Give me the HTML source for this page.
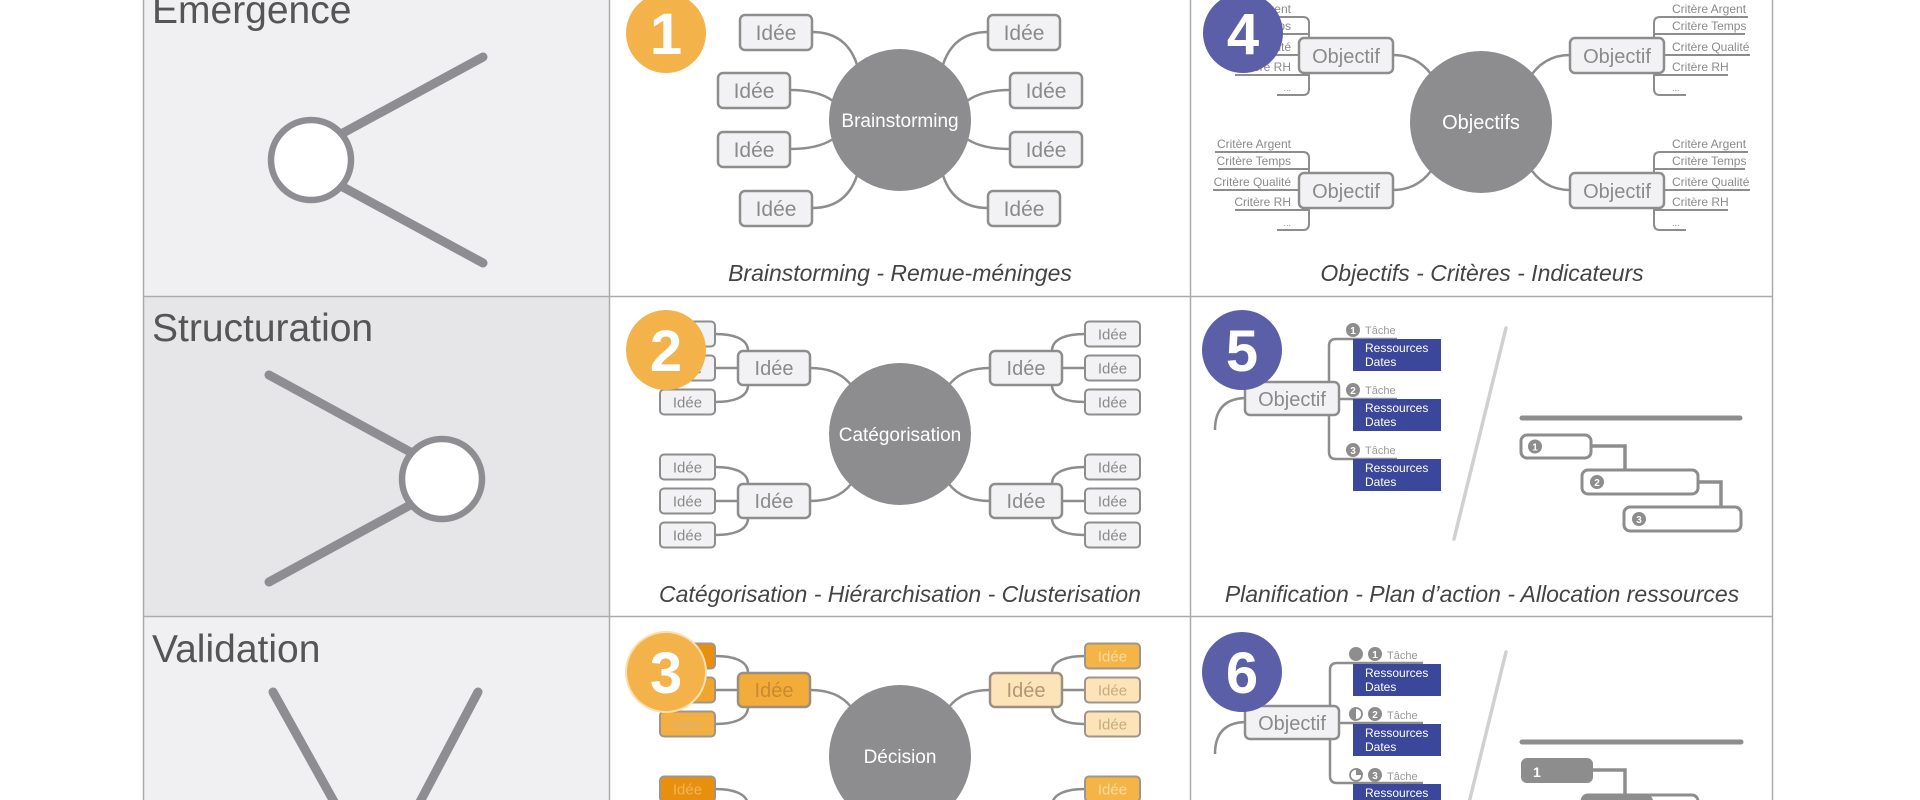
<!DOCTYPE html>
<html><head><meta charset="utf-8"><style>
html,body{margin:0;padding:0;background:#fff;width:1920px;height:800px;overflow:hidden}
svg{display:block}
text{font-family:"Liberation Sans","DejaVu Sans",sans-serif}
</style></head><body>
<svg width="1920" height="800" viewBox="0 0 1920 800" xmlns="http://www.w3.org/2000/svg">
<!-- column 1 backgrounds -->
<rect x="143" y="0" width="466" height="296" fill="#f0f0f3"/>
<rect x="143" y="296" width="466" height="320" fill="#e6e6e9"/>
<rect x="143" y="616" width="466" height="184" fill="#f0f0f3"/>
<!-- grid -->
<g stroke="#ababab" stroke-width="1.5">
<line x1="143.5" y1="0" x2="143.5" y2="800"/>
<line x1="609.5" y1="0" x2="609.5" y2="800"/>
<line x1="1190.5" y1="0" x2="1190.5" y2="800"/>
<line x1="1772.5" y1="0" x2="1772.5" y2="800"/>
<line x1="143" y1="296.5" x2="1772" y2="296.5"/>
<line x1="143" y1="616.5" x2="1772" y2="616.5"/>
</g>
<!-- column 1 headings -->
<g fill="#555" font-size="39">
<text x="152" y="23">Emergence</text>
<text x="152" y="341">Structuration</text>
<text x="152" y="662">Validation</text>
</g>
<!-- column 1 icons -->
<g stroke="#8e8e92" stroke-width="9" stroke-linecap="round">
<line x1="483" y1="57" x2="330" y2="140"/>
<line x1="483" y1="263" x2="330" y2="180"/>
<line x1="269" y1="375" x2="425" y2="460"/>
<line x1="269" y1="582" x2="425" y2="497"/>
<line x1="273" y1="692" x2="352" y2="834"/>
<line x1="478" y1="692" x2="403" y2="834"/>
</g>
<circle cx="311" cy="160" r="40" fill="#fff" stroke="#8e8e92" stroke-width="6.5"/>
<circle cx="442" cy="479" r="40" fill="#fff" stroke="#8e8e92" stroke-width="6.5"/>

<!-- ========== Col 2 Row 1 ========== -->
<g fill="none" stroke="#8d8d8d" stroke-width="2.5">
<path d="M812,32 Q848,32 858,68"/>
<path d="M790,90 Q818,90 833,101"/>
<path d="M790,149 Q818,149 833,139"/>
<path d="M812,208 Q848,208 858,172"/>
<path d="M988,32 Q952,32 942,68"/>
<path d="M1010,90 Q982,90 967,101"/>
<path d="M1010,149 Q982,149 967,139"/>
<path d="M988,208 Q952,208 942,172"/>
</g>
<circle cx="900" cy="120" r="71" fill="#8d8d90"/>
<text x="900" y="127" fill="#fff" font-size="19" text-anchor="middle">Brainstorming</text>
<g fill="#f2f2f4" stroke="#8d8d8d" stroke-width="2.5">
<rect x="740" y="15" width="72" height="35" rx="5"/>
<rect x="718" y="73" width="72" height="35" rx="5"/>
<rect x="718" y="132" width="72" height="35" rx="5"/>
<rect x="740" y="191" width="72" height="35" rx="5"/>
<rect x="988" y="15" width="72" height="35" rx="5"/>
<rect x="1010" y="73" width="72" height="35" rx="5"/>
<rect x="1010" y="132" width="72" height="35" rx="5"/>
<rect x="988" y="191" width="72" height="35" rx="5"/>
</g>
<g fill="#8a8a8a" font-size="21" text-anchor="middle">
<text x="776" y="40">Idée</text>
<text x="754" y="98">Idée</text>
<text x="754" y="157">Idée</text>
<text x="776" y="216">Idée</text>
<text x="1024" y="40">Idée</text>
<text x="1046" y="98">Idée</text>
<text x="1046" y="157">Idée</text>
<text x="1024" y="216">Idée</text>
</g>
<circle cx="666" cy="33" r="40" fill="#f4b24a"/>
<text x="666" y="54" fill="#fff" font-size="58" font-weight="bold" text-anchor="middle">1</text>
<text x="900" y="281" fill="#444" font-size="23" font-style="italic" text-anchor="middle">Brainstorming - Remue-méninges</text>

<!-- ========== Col 3 Row 1 ========== -->
<g fill="none" stroke="#8d8d8d" stroke-width="2.5">
<path d="M1393,55 Q1420,55 1435,80"/>
<path d="M1393,190 Q1420,190 1435,165"/>
<path d="M1570,55 Q1543,55 1528,80"/>
<path d="M1570,190 Q1543,190 1528,165"/>
</g>
<g fill="none" stroke="#8d8d8d" stroke-width="2">
<path d="M1215,17 H1303 Q1309,17 1309,23 V89 Q1309,95 1303,95 H1277"/>
<path d="M1218,34 H1309 M1213,55 H1309 M1235,75 H1309"/>
<path d="M1215,152 H1303 Q1309,152 1309,158 V224 Q1309,230 1303,230 H1277"/>
<path d="M1218,169 H1309 M1213,190 H1309 M1235,210 H1309"/>
<path d="M1748,17 H1660 Q1654,17 1654,23 V89 Q1654,95 1660,95 H1686"/>
<path d="M1745,34 H1654 M1750,55 H1654 M1728,75 H1654"/>
<path d="M1748,152 H1660 Q1654,152 1654,158 V224 Q1654,230 1660,230 H1686"/>
<path d="M1745,169 H1654 M1750,190 H1654 M1728,210 H1654"/>
</g>
<g fill="#8a8a8a" font-size="12" text-anchor="end">
<text x="1291" y="13">Critère Argent</text>
<text x="1291" y="30">Critère Temps</text>
<text x="1291" y="51">Critère Qualité</text>
<text x="1291" y="71">Critère RH</text>
<text x="1291" y="91" font-size="9">...</text>
<text x="1291" y="148">Critère Argent</text>
<text x="1291" y="165">Critère Temps</text>
<text x="1291" y="186">Critère Qualité</text>
<text x="1291" y="206">Critère RH</text>
<text x="1291" y="226" font-size="9">...</text>
</g>
<g fill="#8a8a8a" font-size="12">
<text x="1672" y="13">Critère Argent</text>
<text x="1672" y="30">Critère Temps</text>
<text x="1672" y="51">Critère Qualité</text>
<text x="1672" y="71">Critère RH</text>
<text x="1672" y="91" font-size="9">...</text>
<text x="1672" y="148">Critère Argent</text>
<text x="1672" y="165">Critère Temps</text>
<text x="1672" y="186">Critère Qualité</text>
<text x="1672" y="206">Critère RH</text>
<text x="1672" y="226" font-size="9">...</text>
</g>
<circle cx="1481" cy="122" r="71" fill="#8d8d90"/>
<text x="1481" y="129" fill="#fff" font-size="20" text-anchor="middle">Objectifs</text>
<g fill="#f2f2f4" stroke="#8d8d8d" stroke-width="2.5">
<rect x="1299" y="38" width="94" height="35" rx="5"/>
<rect x="1299" y="173" width="94" height="35" rx="5"/>
<rect x="1570" y="38" width="94" height="35" rx="5"/>
<rect x="1570" y="173" width="94" height="35" rx="5"/>
</g>
<g fill="#8a8a8a" font-size="20" text-anchor="middle">
<text x="1346" y="63">Objectif</text>
<text x="1346" y="198">Objectif</text>
<text x="1617" y="63">Objectif</text>
<text x="1617" y="198">Objectif</text>
</g>
<circle cx="1243" cy="33" r="40" fill="#5a5fa8"/>
<text x="1243" y="54" fill="#fff" font-size="58" font-weight="bold" text-anchor="middle">4</text>
<text x="1482" y="281" fill="#444" font-size="23" font-style="italic" text-anchor="middle">Objectifs - Critères - Indicateurs</text>

<!-- ========== Col 2 Row 2 ========== -->
<g fill="none" stroke="#8d8d8d" stroke-width="2.5">
<path d="M810,368 Q838,368 851,385"/>
<path d="M810,501 Q838,501 851,484"/>
<path d="M990,368 Q962,368 949,385"/>
<path d="M990,501 Q962,501 949,484"/>
<path d="M738,368 H715 M748,351 C748,338 732,334 715,334 M748,385 C748,398 732,402 715,402"/>
<path d="M738,501 H715 M748,484 C748,471 732,467 715,467 M748,518 C748,531 732,535 715,535"/>
<path d="M1062,368 H1085 M1052,351 C1052,338 1068,334 1085,334 M1052,385 C1052,398 1068,402 1085,402"/>
<path d="M1062,501 H1085 M1052,484 C1052,471 1068,467 1085,467 M1052,518 C1052,531 1068,535 1085,535"/>
</g>
<circle cx="900" cy="434" r="71" fill="#8d8d90"/>
<text x="900" y="441" fill="#fff" font-size="19" text-anchor="middle">Catégorisation</text>
<g fill="#f2f2f4" stroke="#8d8d8d" stroke-width="2.5">
<rect x="738" y="351" width="72" height="34" rx="5"/>
<rect x="738" y="484" width="72" height="34" rx="5"/>
<rect x="990" y="351" width="72" height="34" rx="5"/>
<rect x="990" y="484" width="72" height="34" rx="5"/>
</g>
<g fill="#f2f2f4" stroke="#8d8d8d" stroke-width="2">
<rect x="660" y="321.5" width="55" height="25" rx="4"/>
<rect x="660" y="355.5" width="55" height="25" rx="4"/>
<rect x="660" y="389.5" width="55" height="25" rx="4"/>
<rect x="660" y="454.5" width="55" height="25" rx="4"/>
<rect x="660" y="488.5" width="55" height="25" rx="4"/>
<rect x="660" y="522.5" width="55" height="25" rx="4"/>
<rect x="1085" y="321.5" width="55" height="25" rx="4"/>
<rect x="1085" y="355.5" width="55" height="25" rx="4"/>
<rect x="1085" y="389.5" width="55" height="25" rx="4"/>
<rect x="1085" y="454.5" width="55" height="25" rx="4"/>
<rect x="1085" y="488.5" width="55" height="25" rx="4"/>
<rect x="1085" y="522.5" width="55" height="25" rx="4"/>
</g>
<g fill="#8a8a8a" font-size="20" text-anchor="middle">
<text x="774" y="375">Idée</text>
<text x="774" y="508">Idée</text>
<text x="1026" y="375">Idée</text>
<text x="1026" y="508">Idée</text>
</g>
<g fill="#8a8a8a" font-size="15" text-anchor="middle">
<text x="687.5" y="339.5">Idée</text>
<text x="687.5" y="373.5">Idée</text>
<text x="687.5" y="407.5">Idée</text>
<text x="687.5" y="472.5">Idée</text>
<text x="687.5" y="506.5">Idée</text>
<text x="687.5" y="540.5">Idée</text>
<text x="1112.5" y="339.5">Idée</text>
<text x="1112.5" y="373.5">Idée</text>
<text x="1112.5" y="407.5">Idée</text>
<text x="1112.5" y="472.5">Idée</text>
<text x="1112.5" y="506.5">Idée</text>
<text x="1112.5" y="540.5">Idée</text>
</g>
<circle cx="666" cy="350" r="40" fill="#f4b24a"/>
<text x="666" y="371" fill="#fff" font-size="58" font-weight="bold" text-anchor="middle">2</text>
<text x="900" y="602" fill="#444" font-size="23" font-style="italic" text-anchor="middle">Catégorisation - Hiérarchisation - Clusterisation</text>

<!-- ========== Col 3 Row 2 ========== -->
<line x1="1506" y1="328" x2="1454" y2="539" stroke="#d0d0d0" stroke-width="3.5" stroke-linecap="round"/>
<g fill="none" stroke="#8d8d8d" stroke-width="2.5">
<path d="M1247,398 Q1215,398 1215,430"/>
<path d="M1397,339 H1336 Q1329,339 1329,346 V452 Q1329,459 1336,459 H1397"/>
<path d="M1339,399 H1397"/>
</g>
<rect x="1245" y="382" width="94" height="33" rx="5" fill="#f2f2f4" stroke="#8d8d8d" stroke-width="2.5"/>
<text x="1292" y="406" fill="#8a8a8a" font-size="20" text-anchor="middle">Objectif</text>
<g fill="#3b479b">
<rect x="1353" y="339" width="88" height="32"/>
<rect x="1353" y="399" width="88" height="32"/>
<rect x="1353" y="459" width="88" height="32"/>
</g>
<g fill="#fff" font-size="12">
<text x="1365" y="352">Ressources</text><text x="1365" y="366">Dates</text>
<text x="1365" y="412">Ressources</text><text x="1365" y="426">Dates</text>
<text x="1365" y="472">Ressources</text><text x="1365" y="486">Dates</text>
</g>
<g fill="#8d8d8d">
<circle cx="1353" cy="330" r="7"/><circle cx="1353" cy="390" r="7"/><circle cx="1353" cy="450" r="7"/>
</g>
<g fill="#fff" font-size="10" font-weight="bold" text-anchor="middle">
<text x="1353" y="334">1</text><text x="1353" y="394">2</text><text x="1353" y="454">3</text>
</g>
<g fill="#999" font-size="11">
<text x="1365" y="334">Tâche</text><text x="1365" y="394">Tâche</text><text x="1365" y="454">Tâche</text>
</g>
<line x1="1522" y1="418" x2="1740" y2="418" stroke="#8d8d8d" stroke-width="5" stroke-linecap="round"/>
<g fill="none" stroke="#8d8d8d" stroke-width="3.5">
<path d="M1591,446 H1625 V470"/>
<path d="M1698,482 H1721 V507"/>
</g>
<g fill="#fff" stroke="#8d8d8d" stroke-width="3">
<rect x="1521" y="435" width="70" height="23" rx="6"/>
<rect x="1582" y="470" width="116" height="24" rx="6"/>
<rect x="1624" y="507" width="117" height="24" rx="6"/>
</g>
<g fill="#8d8d8d">
<circle cx="1535" cy="446.5" r="7"/><circle cx="1597" cy="482" r="7"/><circle cx="1639" cy="519" r="7"/>
</g>
<g fill="#fff" font-size="10" font-weight="bold" text-anchor="middle">
<text x="1535" y="450.5">1</text><text x="1597" y="486">2</text><text x="1639" y="523">3</text>
</g>
<circle cx="1242" cy="350" r="40" fill="#5a5fa8"/>
<text x="1242" y="371" fill="#fff" font-size="58" font-weight="bold" text-anchor="middle">5</text>
<text x="1482" y="602" fill="#444" font-size="23" font-style="italic" text-anchor="middle">Planification - Plan d’action - Allocation ressources</text>

<!-- ========== Col 2 Row 3 ========== -->
<g transform="translate(0,322)">
<g fill="none" stroke="#8d8d8d" stroke-width="2.5">
<path d="M810,368 Q838,368 851,385"/>
<path d="M810,501 Q838,501 851,484"/>
<path d="M990,368 Q962,368 949,385"/>
<path d="M990,501 Q962,501 949,484"/>
<path d="M738,368 H715 M748,351 C748,338 732,334 715,334 M748,385 C748,398 732,402 715,402"/>
<path d="M738,501 H715 M748,484 C748,471 732,467 715,467"/>
<path d="M1062,368 H1085 M1052,351 C1052,338 1068,334 1085,334 M1052,385 C1052,398 1068,402 1085,402"/>
<path d="M1062,501 H1085 M1052,484 C1052,471 1068,467 1085,467"/>
</g>
<circle cx="900" cy="434" r="71" fill="#8d8d90"/>
<text x="900" y="441" fill="#fff" font-size="19" text-anchor="middle">Décision</text>
<g stroke="#9a8f80" stroke-width="2.5">
<rect x="738" y="351" width="72" height="34" rx="5" fill="#f2ac3a"/>
<rect x="990" y="351" width="72" height="34" rx="5" fill="#fde3b8"/>
<rect x="738" y="484" width="72" height="34" rx="5" fill="#e8900e"/>
<rect x="990" y="484" width="72" height="34" rx="5" fill="#f5b446"/>
</g>
<g stroke="#a0958a" stroke-width="2">
<rect x="660" y="321.5" width="55" height="25" rx="4" fill="#e8900e"/>
<rect x="660" y="355.5" width="55" height="25" rx="4" fill="#f0a52c"/>
<rect x="660" y="389.5" width="55" height="25" rx="4" fill="#f3b042"/>
<rect x="660" y="454.5" width="55" height="25" rx="4" fill="#e8900e"/>
<rect x="1085" y="321.5" width="55" height="25" rx="4" fill="#f5b446"/>
<rect x="1085" y="355.5" width="55" height="25" rx="4" fill="#fde3b8"/>
<rect x="1085" y="389.5" width="55" height="25" rx="4" fill="#fde3b8"/>
<rect x="1085" y="454.5" width="55" height="25" rx="4" fill="#f5b446"/>
</g>
<g font-size="20" text-anchor="middle">
<text x="774" y="375" fill="#c98a30">Idée</text>
<text x="1026" y="375" fill="#b09878">Idée</text>
</g>
<g font-size="15" text-anchor="middle">
<text x="687.5" y="339.5" fill="#f2b45a">Idée</text>
<text x="687.5" y="373.5" fill="#f5c070">Idée</text>
<text x="687.5" y="407.5" fill="#e0b070">Idée</text>
<text x="687.5" y="472.5" fill="#f2b45a">Idée</text>
<text x="1112.5" y="339.5" fill="#fbd9a0">Idée</text>
<text x="1112.5" y="373.5" fill="#c8aa80">Idée</text>
<text x="1112.5" y="407.5" fill="#c8aa80">Idée</text>
<text x="1112.5" y="472.5" fill="#fbd9a0">Idée</text>
</g>
<circle cx="666" cy="350" r="40" fill="#f4b24a" stroke="#fbe0b0" stroke-width="2"/>
<text x="666" y="371" fill="#fff" font-size="58" font-weight="bold" text-anchor="middle">3</text>
</g>

<!-- ========== Col 3 Row 3 ========== -->
<line x1="1506" y1="652" x2="1466" y2="815" stroke="#d0d0d0" stroke-width="3.5" stroke-linecap="round"/>
<g fill="none" stroke="#8d8d8d" stroke-width="2.5">
<path d="M1247,722 Q1215,722 1215,754"/>
<path d="M1423,663 H1337 Q1330,663 1330,670 V776 Q1330,783 1337,783 H1423"/>
<path d="M1339,723 H1423"/>
</g>
<rect x="1245" y="706" width="94" height="33" rx="5" fill="#f2f2f4" stroke="#8d8d8d" stroke-width="2.5"/>
<text x="1292" y="730" fill="#8a8a8a" font-size="20" text-anchor="middle">Objectif</text>
<g fill="#3b479b">
<rect x="1353" y="664" width="88" height="32"/>
<rect x="1353" y="724" width="88" height="32"/>
<rect x="1353" y="784" width="88" height="32"/>
</g>
<g fill="#fff" font-size="12">
<text x="1365" y="677">Ressources</text><text x="1365" y="691">Dates</text>
<text x="1365" y="737">Ressources</text><text x="1365" y="751">Dates</text>
<text x="1365" y="797">Ressources</text><text x="1365" y="811">Dates</text>
</g>
<circle cx="1356" cy="654" r="7" fill="#8d8d8d"/>
<circle cx="1356" cy="714" r="6" fill="#fff" stroke="#8d8d8d" stroke-width="1.8"/>
<path d="M1356,707 A7,7 0 0 0 1356,721 Z" fill="#8d8d8d"/>
<circle cx="1356" cy="775" r="6" fill="#fff" stroke="#8d8d8d" stroke-width="1.8"/>
<path d="M1356,775 V768 A7,7 0 0 1 1363,775 Z" fill="#8d8d8d"/>
<g fill="#8d8d8d">
<circle cx="1375" cy="654" r="7"/><circle cx="1375" cy="714" r="7"/><circle cx="1375" cy="775" r="7"/>
</g>
<g fill="#fff" font-size="10" font-weight="bold" text-anchor="middle">
<text x="1375" y="658">1</text><text x="1375" y="718">2</text><text x="1375" y="779">3</text>
</g>
<g fill="#999" font-size="11">
<text x="1387" y="659">Tâche</text><text x="1387" y="719">Tâche</text><text x="1387" y="780">Tâche</text>
</g>
<line x1="1522" y1="742" x2="1741" y2="742" stroke="#8d8d8d" stroke-width="5" stroke-linecap="round"/>
<path d="M1593,770 H1625 V800" fill="none" stroke="#8d8d8d" stroke-width="3.5"/>
<rect x="1521" y="758" width="72" height="25" rx="6" fill="#8d8d8d"/>
<text x="1533" y="777" fill="#fff" font-size="14" font-weight="bold">1</text>
<rect x="1582" y="795" width="116" height="24" rx="6" fill="#fff" stroke="#8d8d8d" stroke-width="3"/>
<rect x="1582" y="795" width="71" height="24" rx="6" fill="#8d8d8d"/>
<circle cx="1242" cy="672" r="40" fill="#5a5fa8"/>
<text x="1242" y="693" fill="#fff" font-size="58" font-weight="bold" text-anchor="middle">6</text>
</svg>
</body></html>
